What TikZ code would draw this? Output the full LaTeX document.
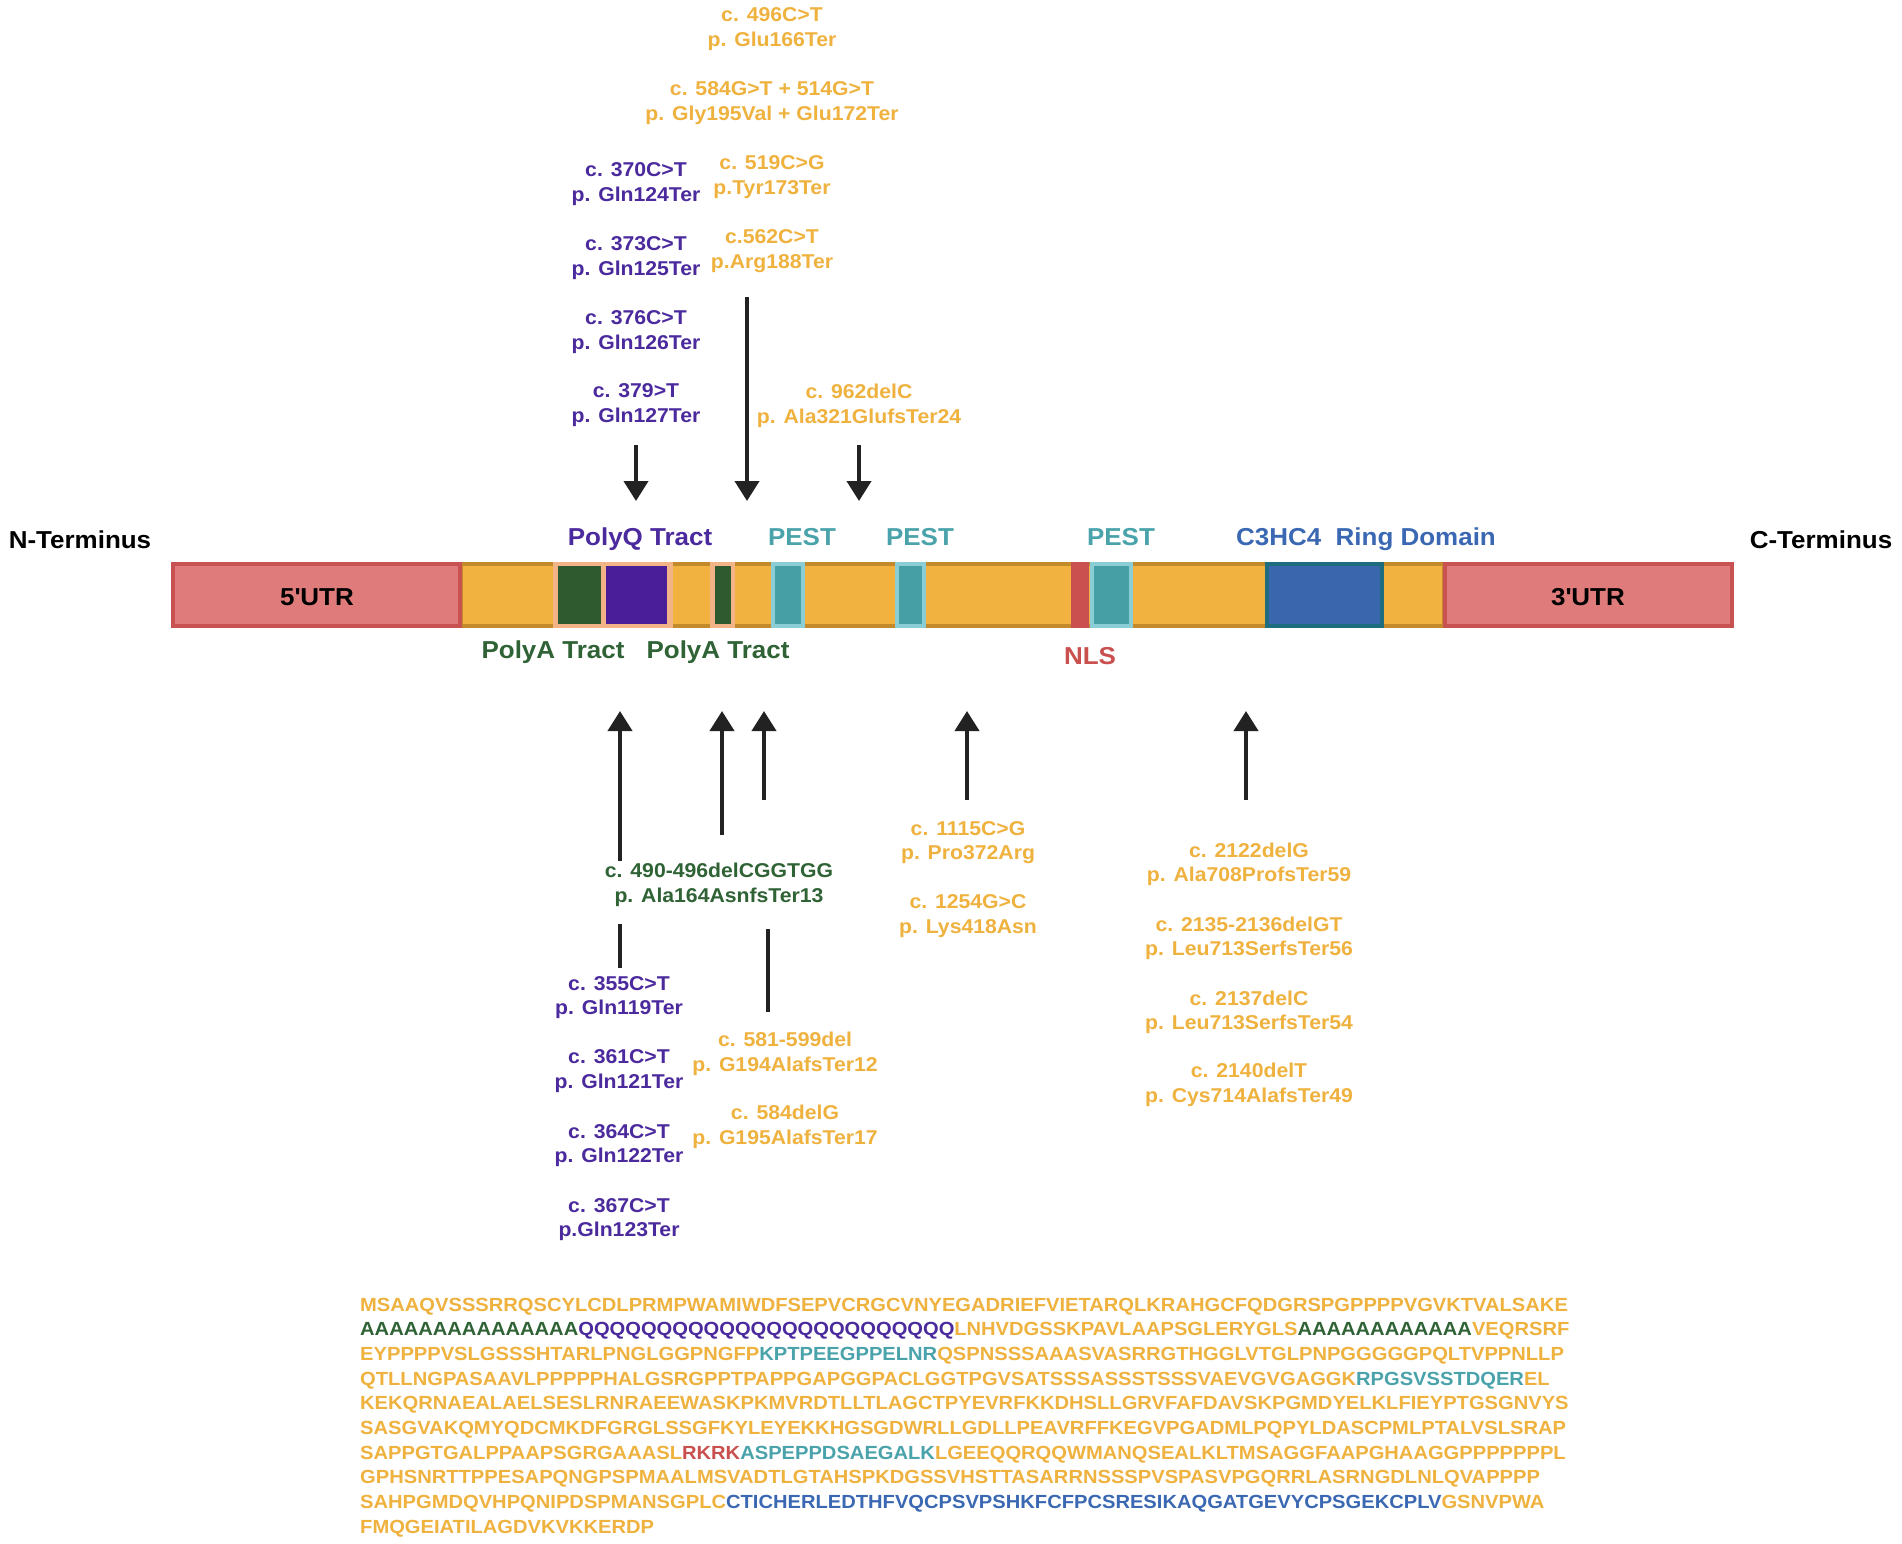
\documentclass[tikz,border=0pt]{standalone}
\usepackage{fontspec}
\setmainfont{Liberation Sans}[FakeStretch=1.06]
\usetikzlibrary{arrows.meta}
\definecolor{orn}{HTML}{EFB23F}
\definecolor{pur}{HTML}{4B2A9E}
\definecolor{grn}{HTML}{2F6335}
\definecolor{tel}{HTML}{4AA3AA}
\definecolor{blu}{HTML}{3B68B3}
\definecolor{nls}{HTML}{C9504F}
\definecolor{utrfill}{HTML}{E07B7B}
\definecolor{utrdraw}{HTML}{C85252}
\definecolor{barfill}{HTML}{F1B240}
\definecolor{bardraw}{HTML}{C28A2A}
\definecolor{peach}{HTML}{F2B387}
\definecolor{boxgrn}{HTML}{2F5A30}
\definecolor{boxpur}{HTML}{4A1E98}
\definecolor{pestfill}{HTML}{479FA6}
\definecolor{pestdraw}{HTML}{8BCDD5}
\definecolor{ringfill}{HTML}{3A66AE}
\definecolor{ringdraw}{HTML}{1E6D7E}
\definecolor{arr}{HTML}{222222}
\tikzset{
  lab/.style={font=\fontsize{20}{24.5}\selectfont\bfseries, align=center, inner sep=0pt},
  big/.style={font=\fontsize{24.5}{28}\selectfont\bfseries, inner sep=0pt, anchor=base},
  seqline/.style={font=\fontsize{19}{23}\selectfont\bfseries, inner sep=0pt, anchor=base west, text=orn},
  arrowline/.style={draw=arr, line width=4pt, -{Triangle[width=24pt,length=20pt]}},
  plainline/.style={draw=arr, line width=4pt},
  seg/.style={rectangle, inner sep=0pt, line width=4pt},
}
\begin{document}
\begin{tikzpicture}[x=1pt,y=-1pt]
\useasboundingbox[fill=white] (0,0) rectangle (1902,1543);

% ---- bar ----
\node[seg, fill=barfill, draw=bardraw, minimum width=983pt, minimum height=62pt] (cds) at (952.5,594.5) {};
\node[seg, fill=utrfill, draw=utrdraw, minimum width=287pt, minimum height=62pt] (utr5) at (316.5,594.5) {};
\node[seg, fill=utrfill, draw=utrdraw, minimum width=287pt, minimum height=62pt] (utr3) at (1588.5,594.5) {};
\node[seg, fill=peach, draw=none, minimum width=120pt, minimum height=66pt] (pk1) at (612.5,594.5) {};
\node[seg, fill=boxgrn, draw=none, line width=0pt, minimum width=43pt, minimum height=58pt] (pa1) at (579,594.5) {};
\node[seg, fill=boxpur, draw=none, line width=0pt, minimum width=61pt, minimum height=58pt] (pq) at (636.5,594.5) {};
\node[seg, fill=peach, draw=none, minimum width=25pt, minimum height=66pt] (pk2) at (722.5,594.5) {};
\node[seg, fill=boxgrn, draw=none, minimum width=16pt, minimum height=58pt] (pa2) at (722.5,594.5) {};
\node[seg, fill=pestfill, draw=pestdraw, minimum width=30pt, minimum height=62pt] (pest1) at (787.5,594.5) {};
\node[seg, fill=pestfill, draw=pestdraw, minimum width=27pt, minimum height=62pt] (pest2) at (910.5,594.5) {};
\node[seg, fill=nls, draw=none, minimum width=18pt, minimum height=66pt] (nlsbox) at (1080,594.5) {};
\node[seg, fill=pestfill, draw=pestdraw, minimum width=39pt, minimum height=62pt] (pest3) at (1111,594.5) {};
\node[seg, fill=ringfill, draw=ringdraw, minimum width=115pt, minimum height=62pt] (ring) at (1324,594.5) {};

% ---- bar labels ----
\node[big, text=black] (nterm) at (80,548) {N-Terminus};
\node[big, text=black] (cterm) at (1821,548) {C-Terminus};
\node[big, text=black] (t5) at (317,605) {5\textquotesingle UTR};
\node[big, text=black] (t3) at (1588,605) {3\textquotesingle UTR};
\node[big, text=pur] (polyq) at (640,545) {PolyQ Tract};
\node[big, text=tel] (lpest1) at (802,545) {PEST};
\node[big, text=tel] (lpest2) at (920,545) {PEST};
\node[big, text=tel] (lpest3) at (1121,545) {PEST};
\node[big, text=blu] (lring) at (1366,545) {C3HC4\ \ Ring Domain};
\node[big, text=grn] (polya1) at (553,658) {PolyA Tract};
\node[big, text=grn] (polya2) at (718,658) {PolyA Tract};
\node[big, text=nls] (lnls) at (1090,664) {NLS};

% ---- top mutation labels ----
\node[lab, text=orn] (o1) at (772,29) {c. 496C>T\\p. Glu166Ter};
\node[lab, text=orn] (o2) at (772,103) {c. 584G>T + 514G>T\\p. Gly195Val + Glu172Ter};
\node[lab, text=orn] (o3) at (772,177) {c. 519C>G\\p.Tyr173Ter};
\node[lab, text=orn] (o4) at (772,251) {c.562C>T\\p.Arg188Ter};
\node[lab, text=pur] (p1) at (636,184) {c. 370C>T\\p. Gln124Ter};
\node[lab, text=pur] (p2) at (636,258) {c. 373C>T\\p. Gln125Ter};
\node[lab, text=pur] (p3) at (636,332) {c. 376C>T\\p. Gln126Ter};
\node[lab, text=pur] (p4) at (636,405) {c. 379>T\\p. Gln127Ter};
\node[lab, text=orn] (o5) at (859,406) {c. 962delC\\p. Ala321GlufsTer24};

% ---- bottom mutation labels ----
\node[lab, text=grn] (g1) at (719,885) {c. 490-496delCGGTGG\\p. Ala164AsnfsTer13};
\node[lab, text=pur] (p5) at (619,997.5) {c. 355C>T\\p. Gln119Ter};
\node[lab, text=pur] (p6) at (619,1071) {c. 361C>T\\p. Gln121Ter};
\node[lab, text=pur] (p7) at (619,1145.5) {c. 364C>T\\p. Gln122Ter};
\node[lab, text=pur] (p8) at (619,1219.5) {c. 367C>T\\p.Gln123Ter};
\node[lab, text=orn] (o6) at (785,1054) {c. 581-599del\\p. G194AlafsTer12};
\node[lab, text=orn] (o7) at (785,1127) {c. 584delG\\p. G195AlafsTer17};
\node[lab, text=orn] (o8) at (968,842.5) {c. 1115C>G\\p. Pro372Arg};
\node[lab, text=orn] (o9) at (968,916) {c. 1254G>C\\p. Lys418Asn};
\node[lab, text=orn] (o10) at (1249,864.5) {c. 2122delG\\p. Ala708ProfsTer59};
\node[lab, text=orn] (o11) at (1249,938.5) {c. 2135-2136delGT\\p. Leu713SerfsTer56};
\node[lab, text=orn] (o12) at (1249,1012.5) {c. 2137delC\\p. Leu713SerfsTer54};
\node[lab, text=orn] (o13) at (1249,1085) {c. 2140delT\\p. Cys714AlafsTer49};

% ---- arrows ----
\coordinate (ta1) at (636,445); \coordinate (tb1) at (636,501);
\coordinate (ta2) at (747,297); \coordinate (tb2) at (747,501);
\coordinate (ta3) at (859,445); \coordinate (tb3) at (859,501);
\draw[arrowline] (ta1) -- (tb1);
\draw[arrowline] (ta2) -- (tb2);
\draw[arrowline] (ta3) -- (tb3);
\coordinate (ba1) at (620,861); \coordinate (bb1) at (620,711);
\coordinate (ba2) at (722,835); \coordinate (bb2) at (722,711);
\coordinate (ba3) at (764,800); \coordinate (bb3) at (764,711);
\coordinate (ba4) at (967,800); \coordinate (bb4) at (967,711);
\coordinate (ba5) at (1246,800); \coordinate (bb5) at (1246,711);
\draw[arrowline] (ba1) -- (bb1);
\draw[arrowline] (ba2) -- (bb2);
\draw[arrowline] (ba3) -- (bb3);
\draw[arrowline] (ba4) -- (bb4);
\draw[arrowline] (ba5) -- (bb5);
\coordinate (la1) at (620,924); \coordinate (lb1) at (620,968);
\coordinate (la2) at (768,929); \coordinate (lb2) at (768,1012);
\draw[plainline] (la1) -- (lb1);
\draw[plainline] (la2) -- (lb2);

% ---- sequence ----
\node[seqline] (s1) at (360,1311) {MSAAQVSSSRRQSCYLCDLPRMPWAMIWDFSEPVCRGCVNYEGADRIEFVIETARQLKRAHGCFQDGRSPGPPPPVGVKTVALSAKE};
\node[seqline] (s2) at (360,1335.7) {\textcolor{grn}{AAAAAAAAAAAAAAA}\textcolor{pur}{QQQQQQQQQQQQQQQQQQQQQQQQ}LNHVDGSSKPAVLAAPSGLERYGLS\textcolor{grn}{AAAAAAAAAAAA}VEQRSRF};
\node[seqline] (s3) at (360,1360.4) {EYPPPPVSLGSSSHTARLPNGLGGPNGFP\textcolor{tel}{KPTPEEGPPELNR}QSPNSSSAAASVASRRGTHGGLVTGLPNPGGGGGPQLTVPPNLLP};
\node[seqline] (s4) at (360,1385.1) {QTLLNGPASAAVLPPPPPHALGSRGPPTPAPPGAPGGPACLGGTPGVSATSSSASSSTSSSVAEVGVGAGGK\textcolor{tel}{RPGSVSSTDQER}EL};
\node[seqline] (s5) at (360,1409.8) {KEKQRNAEALAELSESLRNRAEEWASKPKMVRDTLLTLAGCTPYEVRFKKDHSLLGRVFAFDAVSKPGMDYELKLFIEYPTGSGNVYS};
\node[seqline] (s6) at (360,1434.5) {SASGVAKQMYQDCMKDFGRGLSSGFKYLEYEKKHGSGDWRLLGDLLPEAVRFFKEGVPGADMLPQPYLDASCPMLPTALVSLSRAP};
\node[seqline] (s7) at (360,1459.2) {SAPPGTGALPPAAPSGRGAAASL\textcolor{nls}{RKRK}\textcolor{tel}{ASPEPPDSAEGALK}LGEEQQRQQWMANQSEALKLTMSAGGFAAPGHAAGGPPPPPPPL};
\node[seqline] (s8) at (360,1483.9) {GPHSNRTTPPESAPQNGPSPMAALMSVADTLGTAHSPKDGSSVHSTTASARRNSSSPVSPASVPGQRRLASRNGDLNLQVAPPPP};
\node[seqline] (s9) at (360,1508.6) {SAHPGMDQVHPQNIPDSPMANSGPLC\textcolor{blu}{CTICHERLEDTHFVQCPSVPSHKFCFPCSRESIKAQGATGEVYCPSGEKCPLV}GSNVPWA};
\node[seqline] (s10) at (360,1533.3) {FMQGEIATILAGDVKVKKERDP};
\end{tikzpicture}
\end{document}
